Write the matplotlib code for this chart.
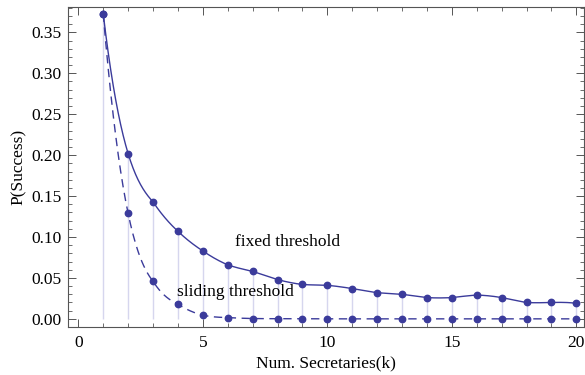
import numpy as np
import matplotlib.pyplot as plt
from matplotlib.ticker import MultipleLocator

# data
k = list(range(1, 21))
p_fixed = [0.373, 0.202, 0.143, 0.107, 0.083, 0.066, 0.058, 0.048, 0.042, 0.041,
           0.037, 0.032, 0.030, 0.026, 0.026, 0.029, 0.026, 0.020, 0.020, 0.019]
p_sliding = [0.373, 0.129, 0.046, 0.018, 0.0045, 0.0016, 0.0004, 0.0002, 0.0001, 0.0,
             0.0, 0.0, 0.0, 0.0, 0.0, 0.0, 0.0, 0.0, 0.0, 0.0]
label_fixed = "fixed threshold"
label_sliding = "sliding threshold"


def smooth(x, y, n=40):
    # piecewise cubic through 4 neighbouring points (like InterpolationOrder -> 3)
    x = np.asarray(x, float)
    y = np.asarray(y, float)
    N = len(x)
    xs, ys = [], []
    for i in range(N - 1):
        j0 = min(max(i - 1, 0), N - 4)
        nodes = range(j0, j0 + 4)
        t = np.linspace(x[i], x[i + 1], n, endpoint=False)
        s = np.zeros_like(t)
        for j in nodes:
            L = np.ones_like(t)
            for m in nodes:
                if m != j:
                    L *= (t - x[m]) / (x[j] - x[m])
            s += y[j] * L
        xs.append(t)
        ys.append(s)
    xs.append([x[-1]])
    ys.append([y[-1]])
    return np.concatenate(xs), np.concatenate(ys)


plt.rcParams['font.family'] = ['Liberation Serif', 'DejaVu Serif']
line_col = '#3b3b9b'
stem_col = '#d6d6ee'
frame_col = '#555555'
fs = 12.5

fig = plt.figure(figsize=(5.85, 3.75), dpi=100)
ax = fig.add_axes([0.1168, 0.129, 0.8812, 0.8523])

ax.vlines(k, 0, p_fixed, color=stem_col, lw=1.0, zorder=1)

xf, yf = smooth(k, p_fixed)
ax.plot(xf, yf, color=line_col, lw=1.0, zorder=2)
xs, ys = smooth(k, p_sliding)
ax.plot(xs, ys, color=line_col, lw=1.0, linestyle=(0, (6, 4)), zorder=2)

ax.plot(k, p_fixed, 'o', color=line_col, ms=4.6, mec=line_col, zorder=3)
ax.plot(k, p_sliding, 'o', color=line_col, ms=4.6, mec=line_col, zorder=3)

ax.text(6.3, 0.0935, label_fixed, fontsize=fs, va='center', ha='left')
ax.text(3.95, 0.0325, label_sliding, fontsize=fs, va='center', ha='left')

ax.set_xlim(-0.4, 20.3)
ax.set_ylim(-0.0095, 0.381)
ax.xaxis.set_major_locator(MultipleLocator(5))
ax.xaxis.set_minor_locator(MultipleLocator(1))
ax.yaxis.set_major_locator(MultipleLocator(0.05))
ax.yaxis.set_minor_locator(MultipleLocator(0.01))
ax.yaxis.set_major_formatter(plt.FuncFormatter(lambda v, p: f"{v:.2f}"))

ax.tick_params(which='both', direction='in', top=True, right=True,
               color=frame_col, labelsize=fs)
ax.tick_params(axis='x', pad=6)
ax.tick_params(axis='y', pad=5)
ax.tick_params(which='major', length=6, width=0.7)
ax.tick_params(which='minor', length=3, width=0.6)
for s in ax.spines.values():
    s.set_color(frame_col)
    s.set_linewidth(0.8)

ax.set_xlabel("Num. Secretaries(k)", fontsize=fs, labelpad=3)
ax.set_ylabel("P(Success)", fontsize=fs, labelpad=3)

fig.savefig('out.png', dpi=100)
